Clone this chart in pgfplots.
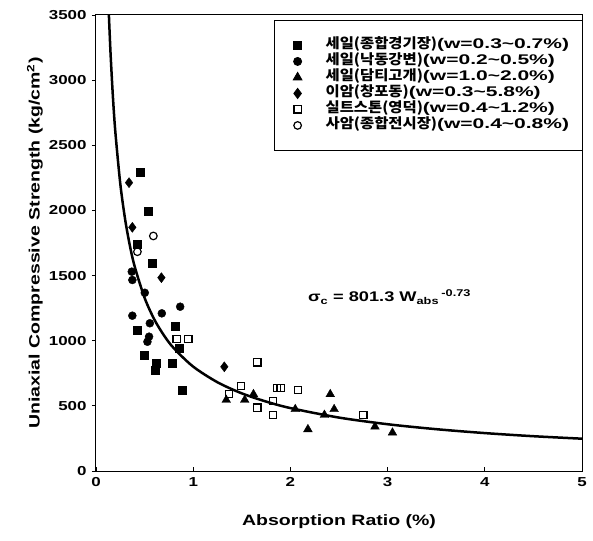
\documentclass[border=0pt]{standalone}
\usepackage{fontspec}
\setmainfont{Liberation Sans}[FakeStretch=1.3]
\newfontfamily\kr{Noto Sans CJK KR}[FakeStretch=1.1]
\newfontfamily\lgl{Liberation Sans}[FakeStretch=1.5]
\usepackage{pgfplots}
\pgfplotsset{compat=1.18}
\newcommand{\lgent}[2]{{\kr\bfseries #1}{\lgl\bfseries #2}}
\pgfplotsset{myleg/.style={legend image code/.code={\path[draw=none,fill=none] (-2pt,-1pt) rectangle (0.6cm,1pt); \draw[##1,only marks] plot coordinates {(0.3cm,0cm)};}}}
\begin{document}
\begin{tikzpicture}
\path[use as bounding box] (-96pt,-69pt) rectangle (497pt,471pt);
\begin{axis}[
  scale only axis, width=486pt, height=456pt,
  xmin=0, xmax=5, ymin=0, ymax=3500,
  xtick={0,1,2,3,4,5}, ytick={0,500,...,3500},
  axis line style={line width=1pt},
  tick style={line width=0.9pt, black},
  major tick length=4pt,
  xtick align=inside, ytick align=outside,
  xtick pos=bottom, ytick pos=left,
  /pgf/number format/assume math mode=true,
  /pgf/number format/1000 sep={},
  ticklabel style={font=\bfseries\fontsize{13}{13}\selectfont},
  xticklabel style={yshift=-3pt},
  yticklabel style={xshift=-2pt},
  xlabel={Absorption Ratio (\%)},
  ylabel={Uniaxial Compressive Strength (kg/cm\textsuperscript{2})},
  label style={font=\bfseries\fontsize{15}{15}\selectfont},
  xlabel style={at={(axis description cs:0.5,-0.1118)}, anchor=center},
  ylabel style={at={(axis description cs:-0.1255,0.5)}, anchor=center},
  legend style={at={(axis description cs:1,1)}, anchor=north east, xshift=1pt, yshift=-5pt,
    draw=black, line width=0.9pt, inner xsep=13pt, inner ysep=17pt,
    column sep=19pt, row sep=0pt,
    nodes={inner sep=0.5pt, text height=11pt, text depth=4pt, font=\fontsize{14}{14}\selectfont}},
  legend cell align=left,
  mark size=4pt,
]
\addplot[only marks, mark=square*, black, mark options={line width=0.5pt}, myleg] coordinates {
(0.454,2293) (0.54,1990) (0.426,1742) (0.58,1594) (0.42,1082) (0.82,1108)
(0.86,945) (0.495,890) (0.615,827) (0.787,827) (0.61,770) (0.89,622)};
\addlegendentry{\lgent{세일(종합경기장)}{(w=0.3\textasciitilde 0.7\%)}}
\addplot[only marks, mark=*, black, myleg] coordinates {
(0.368,1530) (0.374,1466) (0.502,1368) (0.866,1261) (0.374,1192) (0.677,1210)
(0.554,1134) (0.546,1031) (0.529,992)};
\addlegendentry{\lgent{세일(낙동강변)}{(w=0.2\textasciitilde 0.5\%)}}
\addplot[only marks, mark=triangle*, black, mark size=5pt, myleg] coordinates {
(1.34,545) (1.53,545) (1.62,589) (2.05,474) (2.18,320) (2.35,430)
(2.41,589) (2.45,474) (2.87,340) (3.05,294)};
\addlegendentry{\lgent{세일(담티고개)}{(w=1.0\textasciitilde 2.0\%)}}
\addplot[only marks, mark=diamond*, black, mark size=5pt, myleg] coordinates {
(0.34,2213) (0.374,1870) (0.673,1484) (1.32,800)};
\addlegendentry{\lgent{이암(창포동)}{(w=0.3\textasciitilde 5.8\%)}}
\addplot[only marks, mark=square, black, mark size=3.6pt, mark options={line width=1.2pt}, myleg] coordinates {
(0.83,1013) (0.95,1013) (1.37,589) (1.49,652) (1.66,834) (1.66,486)
(1.82,537) (1.82,430) (1.86,635) (1.90,635) (2.08,622) (2.75,430)};
\addlegendentry{\lgent{실트스톤(영덕)}{(w=0.4\textasciitilde 1.2\%)}}
\addplot[only marks, mark=o, black, mark size=3.8pt, mark options={line width=1.2pt}, myleg] coordinates {
(0.59,1804) (0.426,1683)};
\addlegendentry{\lgent{사암(종합전시장)}{(w=0.4\textasciitilde 0.8\%)}}
\addplot[black, line width=2.5pt, smooth, no marks, forget plot] coordinates {
(0.1327,3500) (0.15,3201) (0.175,2860) (0.2,2594) (0.25,2204) (0.3,1930)
(0.35,1724) (0.4,1564) (0.5,1329) (0.6,1163) (0.7,1040) (0.8,943) (1.0,801)
(1.25,681) (1.5,596) (1.75,533) (2.0,483) (2.5,410) (3.0,359) (3.5,321)
(4.0,291) (4.5,267) (5.0,248)};
\node[font=\bfseries\fontsize{14}{14}\selectfont] at (axis cs:3.02,1335)
  {σ\textsubscript{c} = 801.3 W\textsubscript{abs}\,\textsuperscript{-0.73}};
\end{axis}
\end{tikzpicture}
\end{document}
